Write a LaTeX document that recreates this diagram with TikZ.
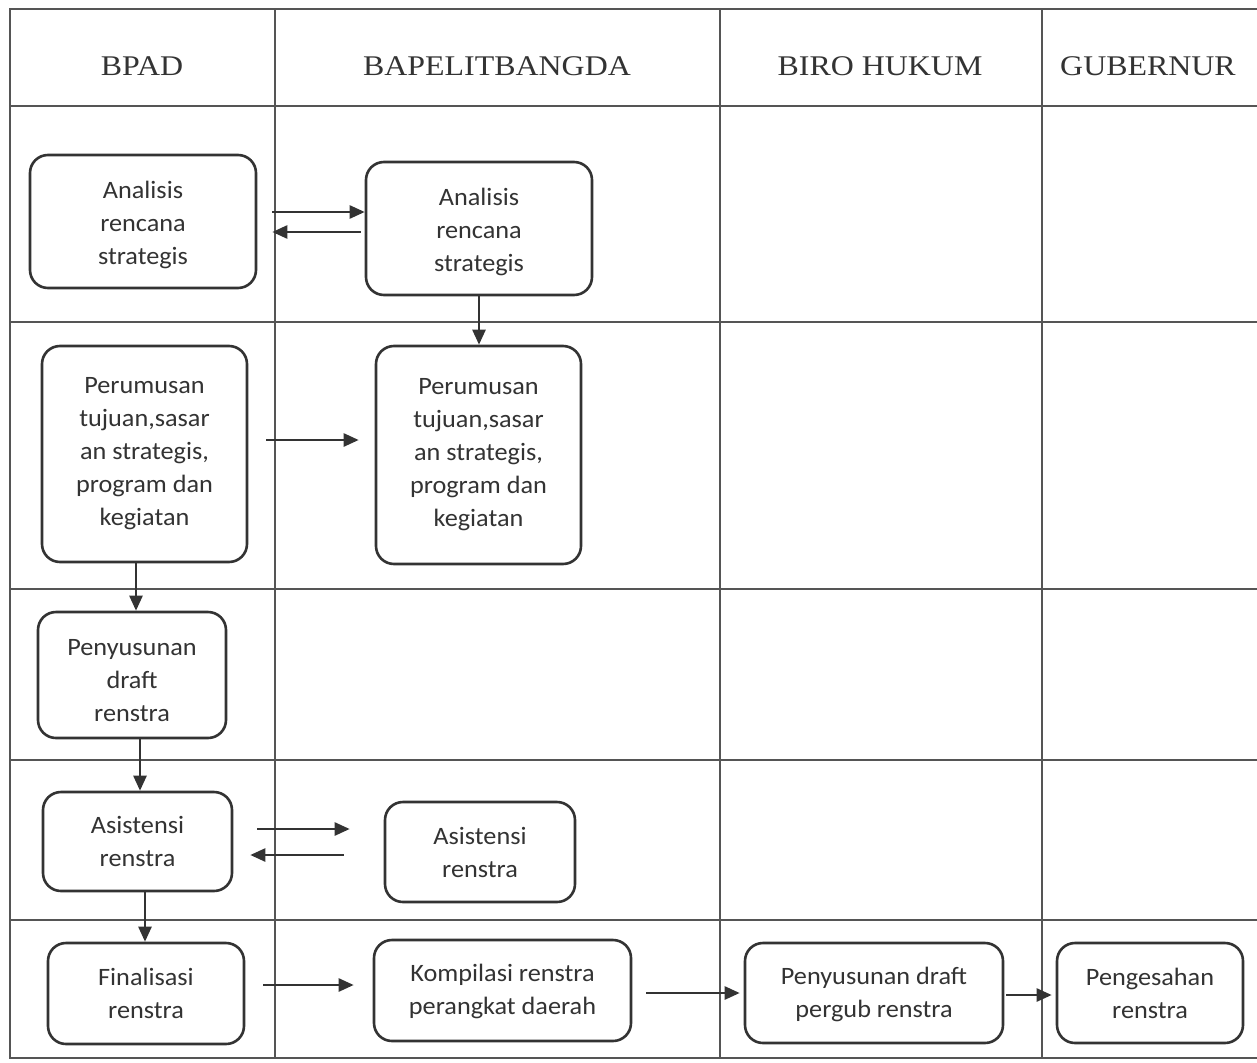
\documentclass[tikz,border=0pt]{standalone}
\usepackage{fontspec}
\usetikzlibrary{arrows.meta}
\newfontfamily\boxfont[FakeStretch=1.05]{Carlito}
\newfontfamily\headfont[FakeStretch=1.12]{Liberation Serif}
\newcommand\tdown[1]{\rule{0pt}{#1}}
\definecolor{ink}{HTML}{333333}
\definecolor{gridc}{HTML}{555555}
\begin{document}
\begin{tikzpicture}[x=1pt,y=-1pt,
  gridline/.style={draw=gridc,line width=1.4pt},
  head/.style={font=\headfont\fontsize{28.5}{32}\selectfont,text=ink},
  flowbox/.style={draw=ink,line width=2.6pt,rounded corners=18pt,align=center,
    inner sep=0pt,text=ink,font=\boxfont\fontsize{25}{33}\selectfont},
  arr/.style={draw=ink,line width=2.5pt,-{Triangle[length=15pt,width=13pt]}}]
\useasboundingbox (0,0) rectangle (1257,1062);
\fill[white] (0,0) rectangle (1257,1062);
% grid
\draw[gridline] (1257,9) -- (10,9) -- (10,1058) -- (1257,1058);
\foreach \yy in {106,322,589,760,920} \draw[gridline] (10,\yy) -- (1257,\yy);
\foreach \xx in {275,720,1042} \draw[gridline] (\xx,9) -- (\xx,1058);
% headers
\node[head] (h1) at (142,66) {BPAD};
\node[head] (h2) at (497,66) {BAPELITBANGDA};
\node[head] (h3) at (880,66) {BIRO HUKUM};
\node[head] (h4) at (1148,66) {GUBERNUR};
% boxes
\node[flowbox,minimum width=226pt,minimum height=133pt] (a1) at (143,221.5) {\tdown{25pt}Analisis\\rencana\\strategis};
\node[flowbox,minimum width=226pt,minimum height=133pt] (b1) at (479,228.5) {\tdown{25pt}Analisis\\rencana\\strategis};
\node[flowbox,minimum width=205pt,minimum height=216pt] (a2) at (144.5,454) {Perumusan\\tujuan,sasar\\an strategis,\\program dan\\kegiatan};
\node[flowbox,minimum width=205pt,minimum height=218pt] (b2) at (478.5,455) {Perumusan\\tujuan,sasar\\an strategis,\\program dan\\kegiatan};
\node[flowbox,minimum width=188pt,minimum height=126pt] (a3) at (132,675) {\tdown{28pt}Penyusunan\\draft\\renstra};
\node[flowbox,minimum width=189pt,minimum height=99pt] (a4) at (137.5,841.5) {Asistensi\\renstra};
\node[flowbox,minimum width=190pt,minimum height=100pt] (b4) at (480,852) {Asistensi\\renstra};
\node[flowbox,minimum width=196pt,minimum height=101pt] (a5) at (146,993.5) {Finalisasi\\renstra};
\node[flowbox,minimum width=257pt,minimum height=101pt] (b5) at (502.5,990.5) {\tdown{20pt}Kompilasi renstra\\perangkat daerah};
\node[flowbox,minimum width=258pt,minimum height=100pt] (c5) at (874,993) {\tdown{20pt}Penyusunan draft\\pergub renstra};
\node[flowbox,minimum width=186pt,minimum height=100pt] (d5) at (1150,993) {Pengesahan\\renstra};
% connectors
\draw[arr] ([shift={(15,-9.5)}]a1.east) -- ([shift={(0,-16.5)}]b1.west);
\draw[arr] ([shift={(-4,3.5)}]b1.west) -- ([shift={(15,10.5)}]a1.east);
\draw[arr] (b1.south) -- ([shift={(0.5,0)}]b2.north);
\draw[arr] ([shift={(18,-14)}]a2.east) -- ([shift={(-16,-15)}]b2.west);
\draw[arr] ([shift={(-8.5,0)}]a2.south) -- ([shift={(4,0)}]a3.north);
\draw[arr] ([shift={(8,0)}]a3.south) -- ([shift={(2.5,0)}]a4.north);
\draw[arr] ([shift={(24,-12.5)}]a4.east) -- ([shift={(-34,-23)}]b4.west);
\draw[arr] ([shift={(-40,3)}]b4.west) -- ([shift={(17,13.5)}]a4.east);
\draw[arr] ([shift={(7.5,0)}]a4.south) -- ([shift={(-1,0)}]a5.north);
\draw[arr] ([shift={(18,-8.5)}]a5.east) -- ([shift={(-19,-5.5)}]b5.west);
\draw[arr] ([shift={(14,2.5)}]b5.east) -- ([shift={(-4,0)}]c5.west);
\draw[arr] ([shift={(2,2)}]c5.east) -- ([shift={(-4,2)}]d5.west);
\end{tikzpicture}
\end{document}
